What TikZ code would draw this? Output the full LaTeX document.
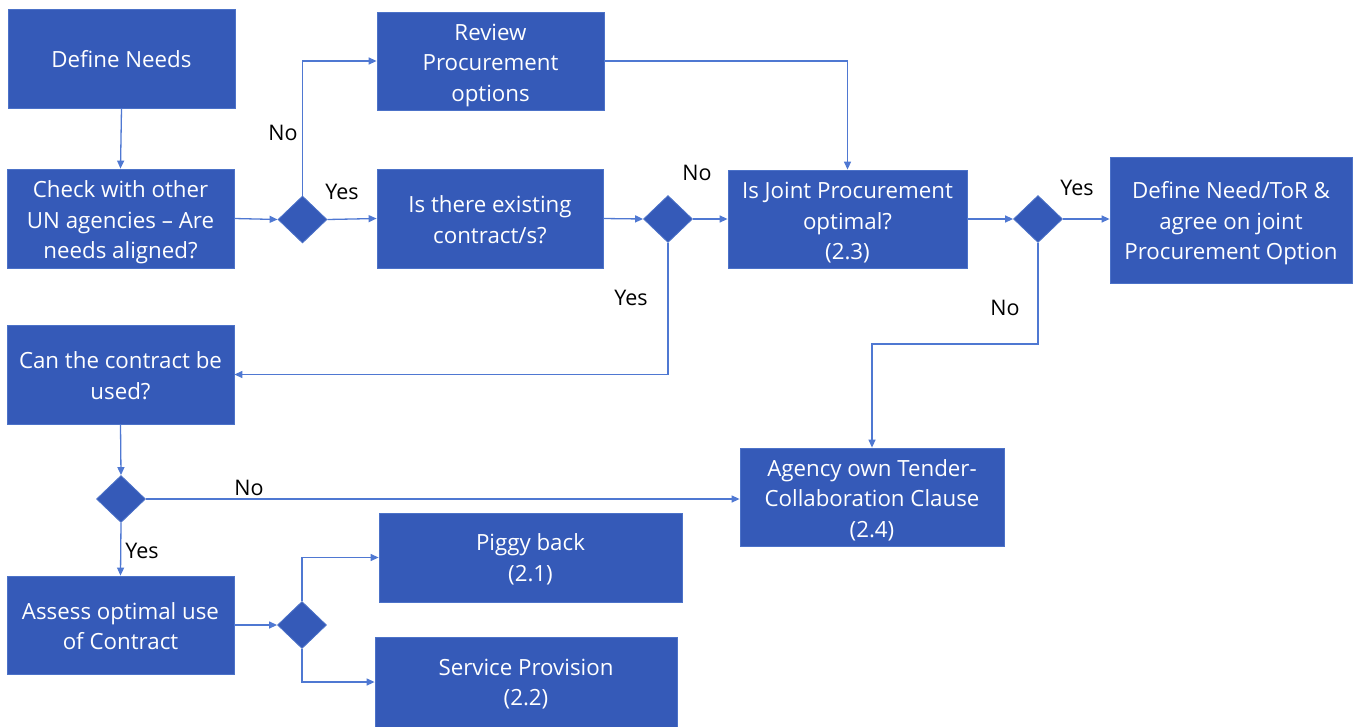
\documentclass[tikz,border=0pt]{standalone}
\usepackage{fontspec}
\setmainfont{Open Sans}
\usetikzlibrary{shapes.geometric,arrows.meta}
\definecolor{boxfill}{HTML}{355AB8}
\definecolor{boxedge}{HTML}{4C72C8}
\definecolor{flowline}{HTML}{4F78D2}
\tikzset{
  procbox/.style={rectangle, fill=boxfill, draw=boxedge, line width=0.8pt,
    inner sep=0pt},
  boxtext/.style={text=white, align=center, inner sep=0pt,
    font=\fontsize{22.3}{30.5}\selectfont, yshift=-4pt},
  decision/.style={diamond, fill=boxfill, draw=boxedge, line width=0.8pt,
    inner sep=0pt, minimum width=49pt, minimum height=47pt},
  flow/.style={draw=flowline, line width=1.3pt,
    -{Triangle[length=8pt,width=7pt]}},
  answer/.style={text=black, font=\fontsize{21.5}{25}\selectfont, inner sep=0pt}
}
\begin{document}
\begin{tikzpicture}[x=1pt,y=-1pt]
\useasboundingbox (0,0) rectangle (1357,726);

% process boxes (text set as a centred label)
\node[procbox, minimum width=227pt, minimum height=99pt,
  label={[boxtext, yshift=3.5pt]center:Define Needs}] (needs) at (121.5,58.5) {};
\node[procbox, minimum width=227pt, minimum height=99pt,
  label={[boxtext]center:Check with other\\UN agencies -- Are\\needs aligned?}] (check) at (120.5,218.5) {};
\node[procbox, minimum width=227pt, minimum height=98pt,
  label={[boxtext]center:Review\\Procurement\\options}] (review) at (490.5,61) {};
\node[procbox, minimum width=226pt, minimum height=99pt,
  label={[boxtext, yshift=3pt]center:Is there existing\\contract/s?}] (exist) at (490,218.5) {};
\node[procbox, minimum width=239pt, minimum height=98pt,
  label={[boxtext]center:Is Joint Procurement\\optimal?\\(2.3)}] (joint) at (847.5,219) {};
\node[procbox, minimum width=242pt, minimum height=126pt,
  label={[boxtext, yshift=0.5pt]center:Define Need/ToR \&\\agree on joint\\Procurement Option}] (define) at (1231,220) {};
\node[procbox, minimum width=227pt, minimum height=99pt,
  label={[boxtext, yshift=3pt]center:Can the contract be\\used?}] (can) at (120.5,374.5) {};
\node[procbox, minimum width=264pt, minimum height=98pt,
  label={[boxtext, yshift=1pt]center:Agency own Tender-\\Collaboration Clause\\(2.4)}] (agency) at (872,497) {};
\node[procbox, minimum width=227pt, minimum height=98pt,
  label={[boxtext, yshift=3pt]center:Assess optimal use\\of Contract}] (assess) at (120.5,625) {};
\node[procbox, minimum width=303pt, minimum height=89pt,
  label={[boxtext, yshift=2pt]center:Piggy back\\(2.1)}] (piggy) at (530.5,557.5) {};
\node[procbox, minimum width=302pt, minimum height=90pt,
  label={[boxtext, yshift=2pt]center:Service Provision\\(2.2)}] (service) at (526,682) {};

% decision diamonds
\node[decision] (d1) at (302.5,219.5) {};
\node[decision] (d2) at (668,219) {};
\node[decision] (d3) at (1038,219) {};
\node[decision] (d4) at (121,499) {};
\node[decision] (d5) at (302,625) {};

\coordinate (jbend) at (1038,344);

% connectors
\draw[flow] (needs.south) -- (check.north);
\draw[flow] (check.east) -- (d1.west);
\draw[flow] (d1.north) |- (review.west);
\draw[flow] (d1.east) -- (exist.west);
\draw[flow] (review.east) -| (joint.north);
\draw[flow] (exist.east) -- (d2.west);
\draw[flow] (d2.east) -- (joint.west);
\draw[flow] (d2.south) |- (can.east);
\draw[flow] (joint.east) -- (d3.west);
\draw[flow] (d3.east) -- (d3.east -| define.west);
\draw[flow] (d3.south) -- (jbend) -| (agency.north);
\draw[flow] (can.south) -- (d4.north);
\draw[flow] (d4.east) -- (d4.east -| agency.west);
\draw[flow] (d4.south) -- (assess.north);
\draw[flow] (assess.east) -- (d5.west);
\draw[flow] (d5.north) |- (piggy.west);
\draw[flow] (d5.south) |- (service.west);

% branch labels
\node[answer] (l1) at (283,133) {No};
\node[answer] (l2) at (342,192) {Yes};
\node[answer] (l3) at (697,173) {No};
\node[answer] (l4) at (631,298) {Yes};
\node[answer] (l5) at (1077,188) {Yes};
\node[answer] (l6) at (1005,308) {No};
\node[answer] (l7) at (249,488) {No};
\node[answer] (l8) at (142,551) {Yes};
\end{tikzpicture}
\end{document}
